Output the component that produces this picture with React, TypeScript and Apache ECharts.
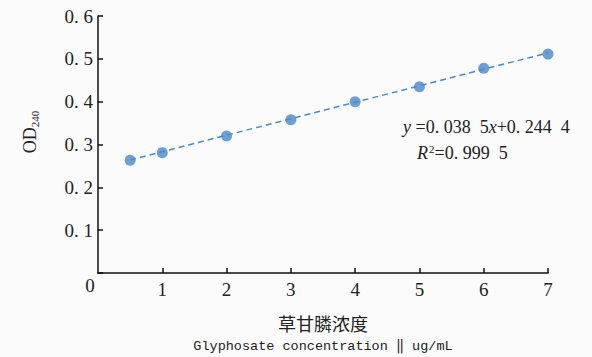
import React, { useEffect, useRef } from "react";
import * as echarts from "echarts";

const concentrations = [0.5, 1, 2, 3, 4, 5, 6, 7];
const odValues = [0.263, 0.281, 0.32, 0.358, 0.4, 0.435, 0.478, 0.511];
const trendX = [0.5, 7];
const trendY = [0.264, 0.514];
const xTicks = [0, 1, 2, 3, 4, 5, 6, 7];
const yTicks = [0, 0.1, 0.2, 0.3, 0.4, 0.5, 0.6];

const serif = "'Liberation Serif', 'Times New Roman', serif";
const blue = "#4a89c8";

export default function App() {
  const ref = useRef<HTMLDivElement>(null);
  useEffect(() => {
    document.body.style.margin = "0";
    const chart = echarts.init(ref.current!, null, { renderer: "svg" });
    chart.setOption({
      animation: false,
      backgroundColor: "#fbfbfb",
      grid: { left: 98, right: 44, top: 16, bottom: 84, containLabel: false },
      xAxis: {
        type: "value",
        min: xTicks[0],
        max: xTicks[xTicks.length - 1],
        interval: 1,
        splitLine: { show: false },
        axisLine: { lineStyle: { color: "#111", width: 1.5 } },
        axisTick: { inside: true, length: 5, lineStyle: { color: "#111", width: 1.5 } },
        axisLabel: {
          showMinLabel: false,
          margin: 7,
          color: "#222",
          fontFamily: serif,
          fontSize: 19,
          formatter: (v: number) => (v === 0 ? "" : String(v)),
        },
      },
      yAxis: {
        type: "value",
        min: yTicks[0],
        max: yTicks[yTicks.length - 1],
        interval: 0.1,
        splitLine: { show: false },
        axisLine: { onZero: false, lineStyle: { color: "#111", width: 1.5 } },
        axisTick: { inside: true, length: 5, lineStyle: { color: "#111", width: 1.5 } },
        axisLabel: {
          margin: 5,
          color: "#222",
          fontFamily: serif,
          fontSize: 19,
          formatter: (v: number) => (v === 0 ? "" : v.toFixed(1).replace(".", ". ")),
        },
      },
      series: [
        {
          type: "line",
          data: trendX.map((x, i) => [x, trendY[i]]),
          symbol: "none",
          lineStyle: { color: blue, width: 1.5, type: [6, 4] },
          z: 1,
        },
        {
          type: "scatter",
          data: concentrations.map((x, i) => [x, odValues[i]]),
          symbol: "circle",
          symbolSize: 11,
          itemStyle: { color: blue },
          z: 2,
        },
      ],
      graphic: [
        {
          type: "text",
          x: 90,
          y: 285,
          style: { text: "0", font: `19px ${serif}`, fill: "#222", align: "center", verticalAlign: "middle" },
        },
        {
          type: "text",
          x: 30,
          y: 132,
          rotation: Math.PI / 2,
          style: {
            text: "{a|OD}{b|240}",
            align: "center",
            verticalAlign: "middle",
            fill: "#222",
            rich: {
              a: { fontFamily: serif, fontSize: 18, fill: "#222" },
              b: { fontFamily: serif, fontSize: 11, fill: "#222", padding: [9, 0, 0, 0] },
            },
          },
        },
        {
          type: "text",
          x: 403,
          y: 127,
          style: {
            text: "{i|y}{n| =0. 038  5}{i|x}{n|+0. 244  4}",
            align: "left",
            verticalAlign: "middle",
            rich: {
              i: { fontFamily: serif, fontSize: 18, fontStyle: "italic", fill: "#222" },
              n: { fontFamily: serif, fontSize: 18, fill: "#222" },
            },
          },
        },
        {
          type: "text",
          x: 417,
          y: 153,
          style: {
            text: "{i|R}{s|2}{n|=0. 999  5}",
            align: "left",
            verticalAlign: "middle",
            rich: {
              i: { fontFamily: serif, fontSize: 18, fontStyle: "italic", fill: "#222" },
              s: { fontFamily: serif, fontSize: 11, fill: "#222", padding: [0, 0, 8, 1] },
              n: { fontFamily: serif, fontSize: 18, fill: "#222" },
            },
          },
        },
        {
          type: "text",
          x: 323,
          y: 323,
          style: {
            text: "草甘膦浓度",
            font: "18px 'Noto Sans CJK SC', sans-serif",
            fill: "#222",
            align: "center",
            verticalAlign: "middle",
          },
        },
        {
          type: "text",
          x: 323,
          y: 346,
          style: {
            text: "Glyphosate concentration \u2016 ug/mL",
            font: "13.5px 'Liberation Mono', monospace",
            fill: "#222",
            align: "center",
            verticalAlign: "middle",
          },
        },
      ],
    });
    return () => chart.dispose();
  }, []);
  return <div ref={ref} style={{ width: 592, height: 357 }} />;
}
